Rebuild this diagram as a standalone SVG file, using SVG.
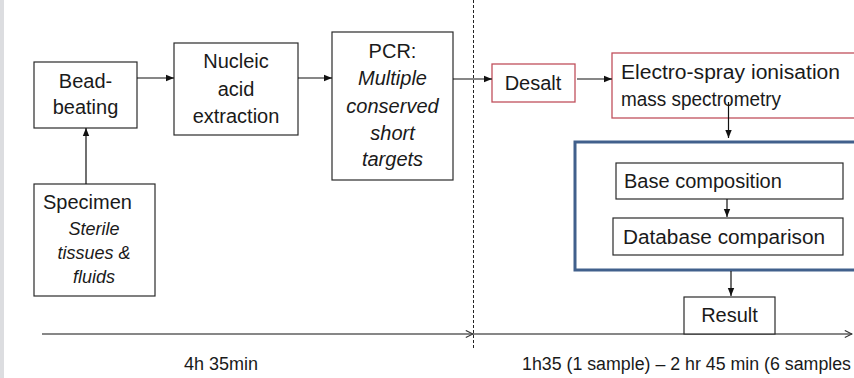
<svg xmlns="http://www.w3.org/2000/svg" width="854" height="378" viewBox="0 0 854 378">
<defs>
<style>
.t{font-family:"Liberation Sans",Arial,sans-serif;font-size:20px;fill:#1a1a1a}
.i{font-style:italic}
.m{text-anchor:middle}
.box{fill:#fff;stroke:#2a2a2a;stroke-width:1.2}
.red{fill:#fff;stroke:#c0505c;stroke-width:1.3}
.blue{fill:#fff;stroke:#41608c;stroke-width:3}
.c{stroke:#111;stroke-width:1.2;fill:none}
.s{font-size:18px}
</style>
<marker id="ah" viewBox="0 0 10 10" refX="10" refY="5" markerWidth="8" markerHeight="8" markerUnits="userSpaceOnUse" orient="auto">
<path d="M0,1 L10,5 L0,9 Z" fill="#111"/>
</marker>
<marker id="oa" viewBox="0 0 10 10" refX="9" refY="5" markerWidth="9" markerHeight="9" markerUnits="userSpaceOnUse" orient="auto">
<path d="M1,1 L9,5 L1,9" fill="none" stroke="#333" stroke-width="1.2"/>
</marker>
</defs>
<rect x="0" y="0" width="854" height="378" fill="#fff"/>
<rect x="0" y="0" width="4" height="378" fill="#dcdde0"/>

<g id="divider">
<line x1="473.5" y1="0" x2="473.5" y2="348" stroke="#222" stroke-width="1" stroke-dasharray="3,2"/>
</g>

<g id="timeline">
<line x1="42" y1="334" x2="473" y2="334" stroke="#111" stroke-width="1.2" marker-end="url(#oa)"/>
<line x1="473" y1="334" x2="852" y2="334" stroke="#111" stroke-width="1.2" marker-end="url(#oa)"/>
<text class="t s m" x="221" y="370">4h 35min</text>
<text class="t s" x="522" y="370" textLength="329" lengthAdjust="spacingAndGlyphs">1h35 (1 sample) – 2 hr 45 min (6 samples</text>
</g>

<g id="bead-beating">
<rect class="box" x="34" y="62" width="103" height="66"/>
<text class="t m" x="85.5" y="88">Bead-</text>
<text class="t m" x="85.5" y="114">beating</text>
</g>

<g id="nucleic-acid-extraction">
<rect class="box" x="174" y="43" width="124" height="92"/>
<text class="t m" x="236" y="68">Nucleic</text>
<text class="t m" x="236" y="96">acid</text>
<text class="t m" x="236" y="123">extraction</text>
</g>

<g id="pcr">
<rect class="box" x="332" y="32" width="121" height="148"/>
<text class="t m" x="392.5" y="58">PCR:</text>
<text class="t m i" x="392.5" y="85">Multiple</text>
<text class="t m i" x="392.5" y="113">conserved</text>
<text class="t m i" x="392.5" y="140">short</text>
<text class="t m i" x="392.5" y="166">targets</text>
</g>

<g id="specimen">
<rect class="box" x="34" y="184" width="121" height="112"/>
<text class="t" x="43" y="209">Specimen</text>
<text class="t m i s" x="94" y="235">Sterile</text>
<text class="t m i s" x="94" y="259">tissues &amp;</text>
<text class="t m i s" x="94" y="283">fluids</text>
</g>

<g id="desalt">
<rect class="red" x="492" y="64" width="83" height="38"/>
<text class="t m" x="533" y="90">Desalt</text>
</g>

<g id="esi-ms">
<rect class="red" x="612" y="53" width="260" height="65"/>
<text class="t" x="621" y="79" textLength="219" lengthAdjust="spacingAndGlyphs">Electro-spray ionisation</text>
<text class="t" x="621" y="106" textLength="160" lengthAdjust="spacingAndGlyphs">mass spectrometry</text>
</g>

<g id="analysis-group">
<rect class="blue" x="575" y="142" width="300" height="128"/>
</g>

<g id="base-composition">
<rect class="box" x="616" y="163" width="227" height="36"/>
<text class="t" x="624" y="188">Base composition</text>
</g>

<g id="database-comparison">
<rect class="box" x="613" y="218" width="230" height="37"/>
<text class="t" x="623" y="244" textLength="202" lengthAdjust="spacingAndGlyphs">Database comparison</text>
</g>

<g id="result">
<rect class="box" x="684" y="297" width="91" height="37"/>
<text class="t m" x="729.5" y="322">Result</text>
</g>

<g id="connectors">
<line class="c" x1="137" y1="78" x2="174" y2="78" marker-end="url(#ah)"/>
<line class="c" x1="298" y1="78" x2="332" y2="78" marker-end="url(#ah)"/>
<line class="c" x1="86" y1="184" x2="86" y2="128" marker-end="url(#ah)"/>
<line class="c" x1="453" y1="79" x2="492" y2="79" marker-end="url(#ah)"/>
<line class="c" x1="577" y1="79" x2="612" y2="79" marker-end="url(#ah)"/>
<line class="c" x1="728.5" y1="102" x2="728.5" y2="138" marker-end="url(#ah)"/>
<line class="c" x1="727" y1="199" x2="727" y2="217" marker-end="url(#ah)"/>
<line class="c" x1="731" y1="271" x2="731" y2="296" marker-end="url(#ah)"/>
</g>
</svg>
